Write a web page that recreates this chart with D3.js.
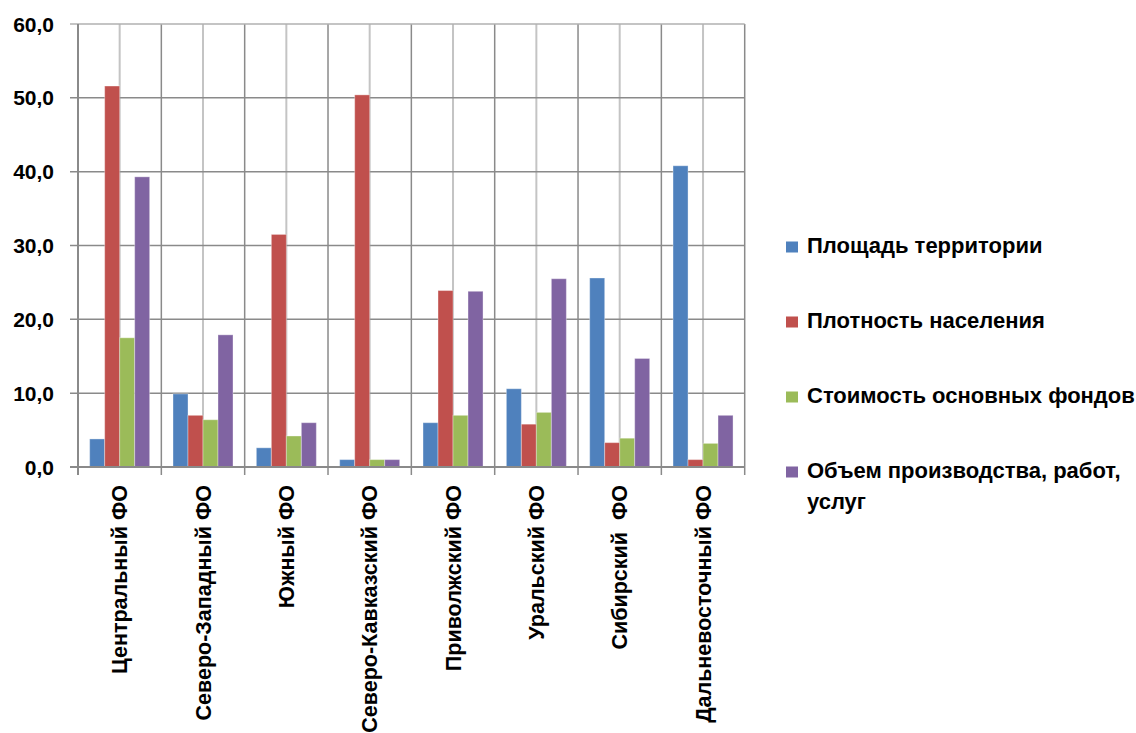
<!DOCTYPE html>
<html>
<head>
<meta charset="utf-8">
<script src="https://cdnjs.cloudflare.com/ajax/libs/d3/7.8.5/d3.min.js"></script>
<style>
  body { margin: 0; background: #fff; }
  text { font-family: "Liberation Sans", Arial, sans-serif; font-weight: bold; fill: #000; }
</style>
</head>
<body>
<svg id="chart" width="1136" height="733"></svg>
<script>
// --- data ---
const regions = ["Центральный ФО", "Северо-Западный ФО", "Южный ФО", "Северо-Кавказский ФО",
                 "Приволжский ФО", "Уральский ФО", "Сибирский  ФО", "Дальневосточный ФО"];
const seriesNames = ["Площадь территории", "Плотность населения",
                     "Стоимость основных фондов", "Объем производства, работ, услуг"];
const area       = [3.8, 9.9, 2.6, 1.0, 6.0, 10.6, 25.6, 40.8];
const density    = [51.6, 7.0, 31.5, 50.4, 23.9, 5.8, 3.3, 1.0];
const assets     = [17.5, 6.4, 4.2, 1.0, 7.0, 7.4, 3.9, 3.2];
const production = [39.3, 17.9, 6.0, 1.0, 23.8, 25.5, 14.7, 7.0];
const yTicks = [0, 10, 20, 30, 40, 50, 60];
const colors = ["#4f81bd", "#c0504d", "#9bbb59", "#8064a2"];

const seriesValues = [area, density, assets, production];

// --- layout ---
const svg = d3.select("#chart");
const plot = { left: 78, right: 744.7, top: 24, bottom: 467 };

const x0 = d3.scaleBand().domain(regions).range([plot.left, plot.right]).padding(0);
const step = x0.bandwidth();
const gap = 11.67;
const x1 = d3.scaleBand().domain(d3.range(4)).range([gap, step - gap]).padding(0);
const y = d3.scaleLinear().domain([0, 60]).range([plot.bottom, plot.top]);

// minor vertical gridlines at category centers
svg.append("g").selectAll("line").data(regions).enter().append("line")
    .attr("x1", d => x0(d) + step / 2).attr("x2", d => x0(d) + step / 2)
    .attr("y1", plot.top).attr("y2", plot.bottom)
    .attr("stroke", "#c4c4c4").attr("stroke-width", 2);

// major vertical gridlines at category boundaries
const bounds = regions.map(d => x0(d)).concat([plot.right]);
svg.append("g").selectAll("line").data(bounds).enter().append("line")
    .attr("x1", d => d).attr("x2", d => d)
    .attr("y1", plot.top).attr("y2", plot.bottom + 8)
    .attr("stroke", "#8a8a8a").attr("stroke-width", 1.5);

// horizontal gridlines
svg.append("g").selectAll("line").data(yTicks).enter().append("line")
    .attr("x1", plot.left - 8).attr("x2", plot.right)
    .attr("y1", d => y(d)).attr("y2", d => y(d))
    .attr("stroke", d => d === 60 ? "#b0b0b0" : "#8a8a8a").attr("stroke-width", 1.5);

// y axis labels
svg.append("g").selectAll("text").data(yTicks).enter().append("text")
    .attr("x", 54).attr("y", d => y(d)).attr("dy", "0.36em")
    .attr("text-anchor", "end").attr("font-size", 21)
    .text(d => d3.format(".1f")(d).replace(".", ","));

// bars
const groups = svg.append("g").selectAll("g").data(regions).enter().append("g")
    .attr("transform", d => `translate(${x0(d)},0)`);
groups.selectAll("rect")
    .data((d, i) => seriesValues.map((s, k) => ({ k: k, v: s[i] })))
    .enter().append("rect")
    .attr("x", d => x1(d.k)).attr("width", x1.bandwidth())
    .attr("y", d => y(d.v)).attr("height", d => y(0) - y(d.v))
    .attr("fill", d => colors[d.k])
    .attr("stroke", "rgba(255,255,255,0.35)").attr("stroke-width", 1);

// axis lines
svg.append("line").attr("x1", plot.left).attr("x2", plot.left)
    .attr("y1", plot.top).attr("y2", plot.bottom + 8)
    .attr("stroke", "#8a8a8a").attr("stroke-width", 2);
svg.append("line").attr("x1", plot.left - 8).attr("x2", plot.right)
    .attr("y1", plot.bottom).attr("y2", plot.bottom)
    .attr("stroke", "#8a8a8a").attr("stroke-width", 2);

// category labels, rotated
svg.append("g").selectAll("text").data(regions).enter().append("text")
    .attr("transform", d => `translate(${x0(d) + step / 2},${plot.bottom + 18}) rotate(-90)`)
    .attr("text-anchor", "end").attr("dy", "0.36em")
    .attr("font-size", 21.5)
    .style("white-space", "pre")
    .text(d => d);

// legend
const legendY = [247, 322, 397, 472];
const legend = svg.append("g").selectAll("g").data(seriesNames).enter().append("g")
    .attr("transform", (d, i) => `translate(786,${legendY[i]})`);
legend.append("rect").attr("x", 0).attr("y", -5.5).attr("width", 12).attr("height", 11)
    .attr("fill", (d, i) => colors[i]);
legend.append("text").attr("x", 21).attr("y", 6)
    .attr("font-size", 22)
    .each(function (d, i) {
        const t = d3.select(this);
        if (i === 3) {
            t.append("tspan").attr("x", 21).text("Объем производства, работ,");
            t.append("tspan").attr("x", 21).attr("dy", 31).text("услуг");
        } else {
            t.text(d);
        }
    });
</script>
</body>
</html>
